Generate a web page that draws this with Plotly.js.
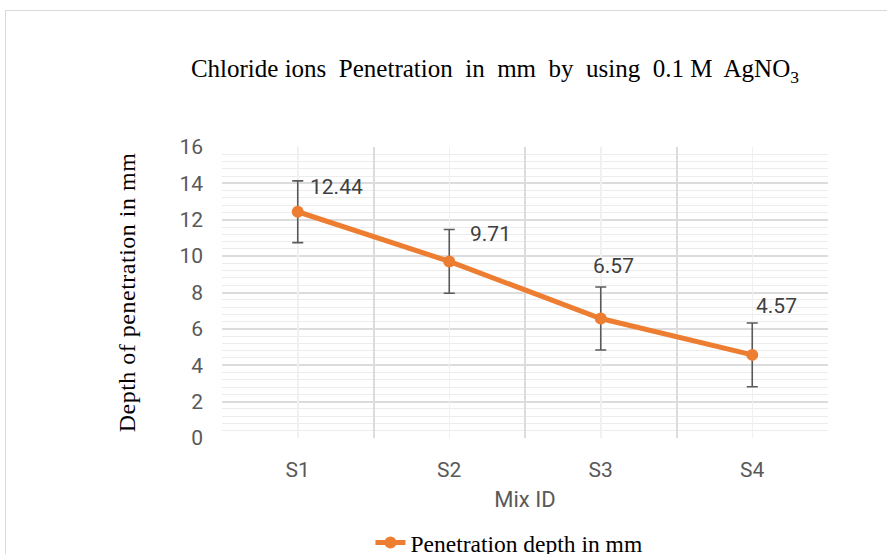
<!DOCTYPE html>
<html>
<head>
<meta charset="utf-8">
<script src="https://cdn.plot.ly/plotly-3.0.1.min.js"></script>
<style>
html,body{margin:0;padding:0;background:#fff;overflow:hidden;}
#frame{position:absolute;left:5px;top:10px;width:1000px;height:700px;border-left:1.5px solid #d9d9d9;border-top:1.5px solid #d9d9d9;box-sizing:border-box;}
#chart{position:absolute;left:0;top:0;width:887px;height:554px;}
#chart .ytitle{letter-spacing:0.5px;}
</style>
</head>
<body>
<div id="frame"></div>
<div id="chart"></div>
<script>
// ---- data ----
const categories = ["S1", "S2", "S3", "S4"];
const penetrationDepth = [12.44, 9.71, 6.57, 4.57];
const errorValues = [1.70, 1.75, 1.73, 1.75];
const yTickValues = [0, 2, 4, 6, 8, 10, 12, 14, 16];
const seriesName = "Penetration depth in mm";

// label offsets (style)
const labelOffsets = [[39, -25], [41, -27], [13, -53], [24, -49]];

const tickFont = {family: "Roboto, sans-serif", size: 21, color: "#595959"};
const serif = "'Liberation Serif', 'Times New Roman', serif";

const trace = {
  x: categories,
  y: penetrationDepth,
  type: "scatter",
  mode: "lines+markers",
  name: seriesName,
  line: {color: "#ED7D31", width: 5},
  marker: {color: "#ED7D31", size: 12},
  error_y: {type: "data", array: errorValues, visible: true, color: "#595959", thickness: 1.6, width: 5.5},
  cliponaxis: false
};
// invisible trace on overlay axis for center gridlines
const gridTrace = {
  x: categories, y: penetrationDepth, xaxis: "x2", type: "scatter", mode: "none",
  showlegend: false, hoverinfo: "skip"
};

const annotations = penetrationDepth.map((v, i) => ({
  x: categories[i], y: v, xref: "x", yref: "y",
  text: v.toFixed(2), showarrow: false,
  xshift: labelOffsets[i][0], yshift: -labelOffsets[i][1],
  font: {family: "Roboto, sans-serif", size: 21, color: "#404040"}
}));

const layout = {
  width: 887, height: 554,
  paper_bgcolor: "rgba(0,0,0,0)",
  plot_bgcolor: "rgba(0,0,0,0)",
  margin: {l: 222, r: 59, t: 147, b: 116, autoexpand: false},
  title: {
    text: "Chloride ions  Penetration  in  mm  by  using  0.1 M  AgNO<sub>3</sub>",
    font: {family: serif, size: 25, color: "#000"},
    x: 0.558, xanchor: "center", y: 0.876, yanchor: "middle"
  },
  xaxis: {
    type: "category",
    categoryarray: categories,
    tickson: "boundaries",
    showgrid: true, gridcolor: "#dcdcdc", gridwidth: 2,
    ticks: "",
    ticklabelstandoff: 17,
    tickfont: tickFont,
    showline: false, zeroline: false,
    title: {text: "Mix ID", font: {family: "Roboto, sans-serif", size: 22, color: "#595959"}, standoff: 10},
    range: [-0.5, 3.5], fixedrange: true
  },
  xaxis2: {
    type: "category", categoryarray: categories, overlaying: "x",
    showgrid: true, gridcolor: "#f0f0f0", gridwidth: 1.5,
    showticklabels: false, ticks: "", range: [-0.5, 3.5], layer: "below traces"
  },
  yaxis: {
    range: [0, 16],
    tickvals: yTickValues,
    showgrid: true, gridcolor: "#dcdcdc", gridwidth: 2,
    minor: {dtick: 0.4, showgrid: true, gridcolor: "#ececec", gridwidth: 1},
    zeroline: false, showline: false,
    tickfont: tickFont,
    ticklabelstandoff: 18,
    title: {text: "Depth of penetration in mm", font: {family: serif, size: 24, color: "#000"}, standoff: 36}
  },
  showlegend: true,
  legend: {
    orientation: "h", x: 0.245, xanchor: "left", y: -0.36, yanchor: "middle",
    font: {family: serif, size: 23.5, color: "#000"},
    bgcolor: "rgba(0,0,0,0)"
  },
  annotations: annotations
};

Plotly.newPlot("chart", [gridTrace, trace], layout, {displayModeBar: false, staticPlot: true});
</script>
</body>
</html>
